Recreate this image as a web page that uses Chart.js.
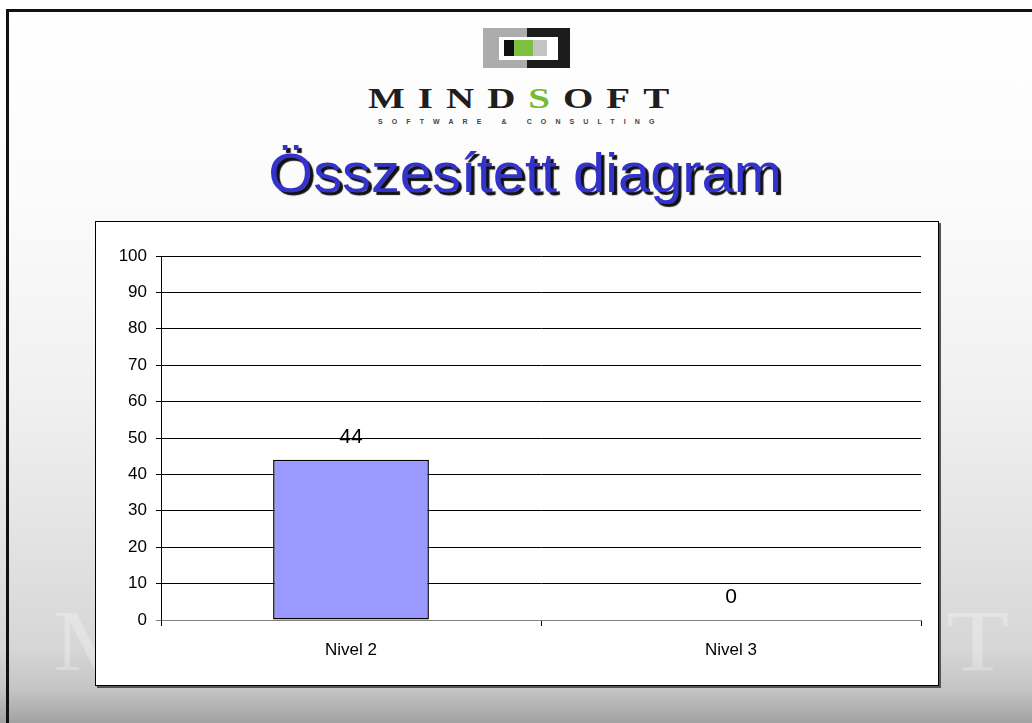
<!DOCTYPE html>
<html>
<head>
<meta charset="utf-8">
<script src="https://cdn.jsdelivr.net/npm/chart.js@4.4.1/dist/chart.umd.min.js"></script>
<style>
  html, body { margin: 0; padding: 0; }
  body {
    width: 1032px; height: 723px; overflow: hidden; position: relative;
    background: linear-gradient(to bottom, #ffffff 0px, #fbfbfb 200px, #f0f0f0 400px, #e4e4e4 530px, #d6d6d6 650px, #c4c4c4 690px, #a2a2a2 723px);
    font-family: 'Liberation Sans', Arial, sans-serif;
  }
  .abs { position: absolute; }
  #frame { left: 6px; top: 9px; width: 1100px; height: 800px; border-top: 3px solid #111; border-left: 3px solid #111; }
  #title {
    left: 0; top: 146px; width: 1050px; text-align: center;
    font-size: 55px; line-height: 55px; color: #3333cc;
    text-shadow: 3px 3px 1px #111; transform: scaleX(1.05); transform-origin: 525px 0;
  }
  #brand {
    left: 368px; top: 83px; font-family: 'Liberation Serif', 'Times New Roman', serif; font-weight: bold;
    font-size: 30px; line-height: 30px; color: #1e1e1e; letter-spacing: 10px;
    transform: scaleX(1.3); transform-origin: 0 0; white-space: nowrap;
  }
  #brand span { color: #77bb33; }
  #sub {
    left: 378px; top: 118px; font-size: 7px; line-height: 7px; font-weight: bold; color: #444;
    letter-spacing: 9.1px; white-space: nowrap;
  }
  #water {
    left: 53px; top: 598px; font-family: 'Liberation Serif', 'Times New Roman', serif;
    font-size: 86px; line-height: 86px; color: rgba(255,255,255,0.28); letter-spacing: 51px;
    transform: scaleX(1.2); transform-origin: 0 0; white-space: nowrap;
  }
  #box {
    left: 95px; top: 221px; width: 844px; height: 465px; box-sizing: border-box;
    background: #fff; border: 1px solid #000; box-shadow: 2px 2px 0 #555;
  }
  #chart { position: absolute; left: 0; top: 0; }
</style>
</head>
<body>
<div id="frame" class="abs"></div>

<!-- logo -->
<div class="abs" style="left:483px;top:28px;width:44px;height:40px;background:#acacac"></div>
<div class="abs" style="left:527px;top:28px;width:43px;height:40px;background:#1c1c1c"></div>
<div class="abs" style="left:499px;top:37px;width:59px;height:23px;background:#fff"></div>
<div class="abs" style="left:504px;top:40px;width:10px;height:16px;background:#111"></div>
<div class="abs" style="left:514px;top:40px;width:19px;height:16px;background:#7cc142"></div>
<div class="abs" style="left:533px;top:40px;width:14px;height:16px;background:#c4c4c4"></div>
<div id="brand" class="abs">MIND<span>S</span>OFT</div>
<div id="sub" class="abs">SOFTWARE &amp; CONSULTING</div>

<div id="title" class="abs">Összesített diagram</div>

<div id="water" class="abs">MINDSOFT</div>

<div id="box" class="abs">
  <canvas id="chart" width="842" height="463"></canvas>
</div>

<script>
var categories = ['Nivel 2', 'Nivel 3'];
var values = [44, 0];
var yMin = 0;
var yMax = 100;
var yStep = 10;

var fontFamily = "'Liberation Sans', Arial, sans-serif";

// value printed above each bar
var valueLabels = {
  id: 'valueLabels',
  afterDatasetsDraw: function(chart) {
    var ctx = chart.ctx;
    var meta = chart.getDatasetMeta(0);
    ctx.save();
    ctx.fillStyle = '#000';
    ctx.font = '21px ' + fontFamily;
    ctx.textAlign = 'center';
    ctx.textBaseline = 'bottom';
    meta.data.forEach(function(bar, i) {
      ctx.fillText(String(values[i]), bar.x, bar.y - 12);
    });
    ctx.restore();
  }
};

var ctx = document.getElementById('chart');
var chart = new Chart(ctx, {
  type: 'bar',
  data: {
    labels: categories,
    datasets: [{
      data: values,
      backgroundColor: '#9999ff',
      borderColor: '#000',
      borderWidth: 1.5,
      borderSkipped: false,
      barPercentage: 0.41,
      categoryPercentage: 1.0
    }]
  },
  options: {
    responsive: false,
    animation: false,
    devicePixelRatio: 1,
    layout: { padding: { top: 34, right: 17, left: 0, bottom: 0 } },
    plugins: { legend: { display: false }, tooltip: { enabled: false } },
    scales: {
      x: {
        grid: { offset: true, drawOnChartArea: false, drawTicks: true, tickLength: 6, color: '#000' },
        border: { color: '#808080', width: 1 },
        ticks: { color: '#000', font: { family: fontFamily, size: 17 }, padding: 14 },
        afterFit: function(scale) { scale.height = 65; }
      },
      y: {
        min: yMin,
        max: yMax,
        ticks: { stepSize: yStep, color: '#000', font: { family: fontFamily, size: 17 }, padding: 9 },
        grid: {
          color: function(c) { return c.tick && c.tick.value === 0 ? '#808080' : '#000'; },
          tickLength: 5,
          lineWidth: 1
        },
        border: { color: '#000', width: 1 },
        afterFit: function(scale) { scale.width = 65; }
      }
    }
  },
  plugins: [valueLabels]
});
</script>
</body>
</html>
